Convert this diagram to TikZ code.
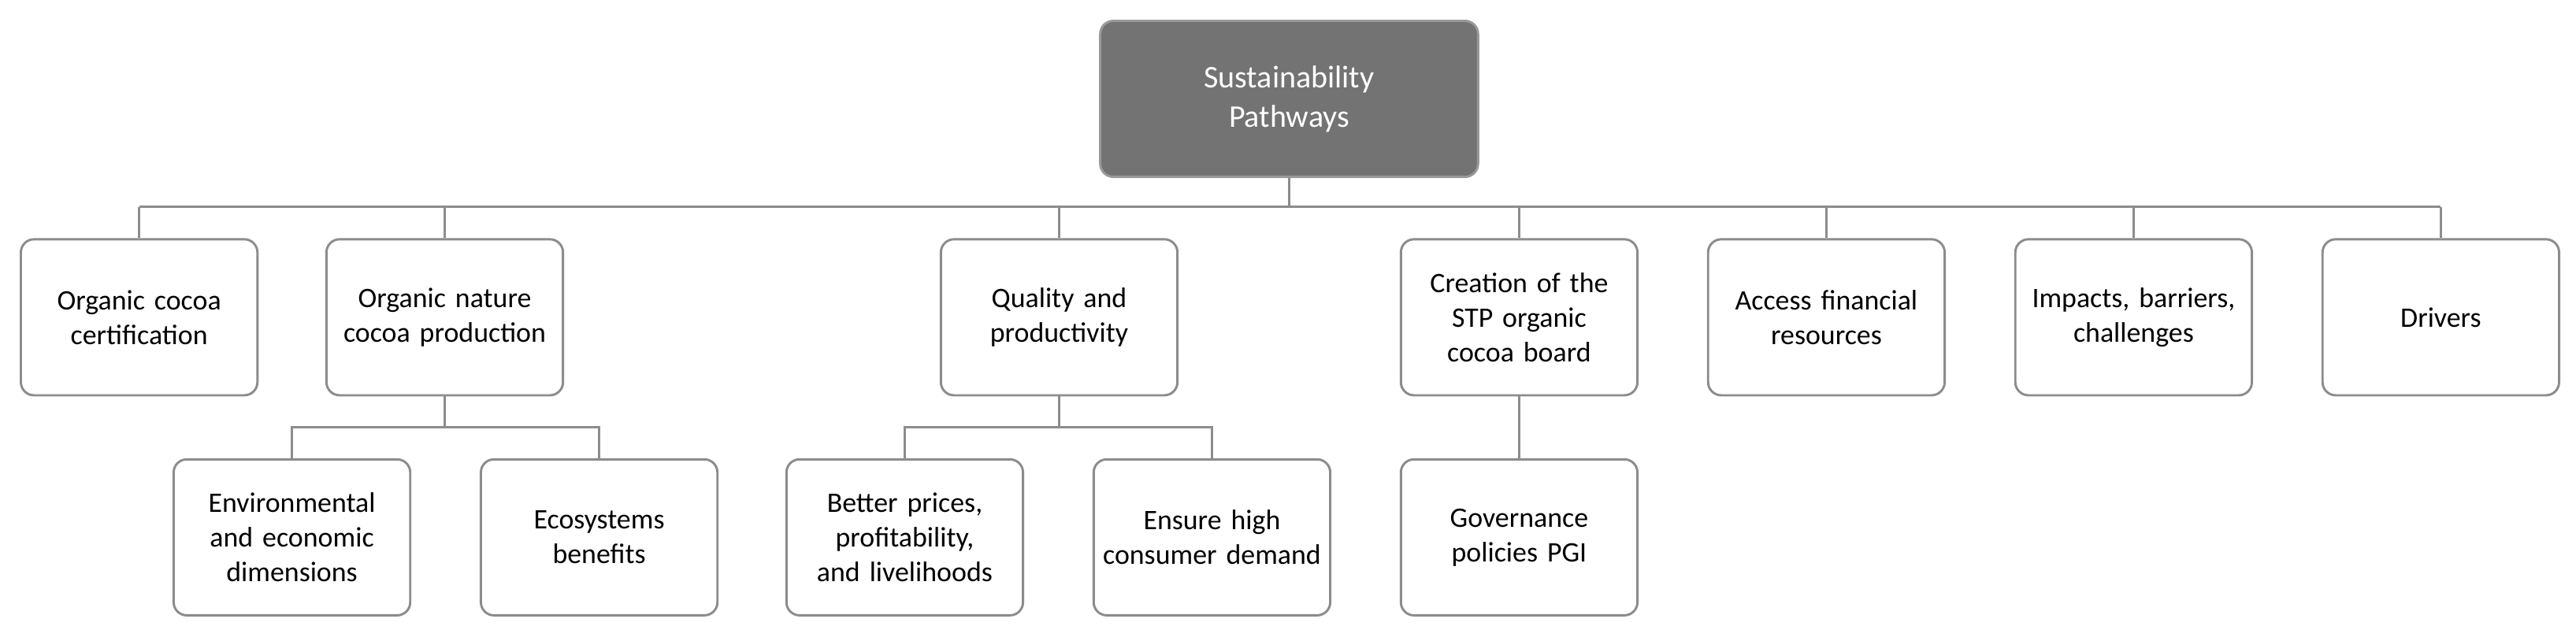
\documentclass[tikz,border=0pt]{standalone}
\usepackage{fontspec}
\setmainfont{Carlito}
\begin{document}
\begin{tikzpicture}[x=0.5pt,y=-0.5pt,
 bx/.style={draw=black!45,line width=0.7pt,rounded corners=4pt,fill=white,minimum width=72pt,minimum height=47.5pt,align=center,font=\fontsize{8.6}{10.6}\selectfont,text width=68pt,anchor=north west,inner sep=0pt},
 ln/.style={draw=black!45,line width=0.7pt}]
\useasboundingbox (0,0) rectangle (1568,390);
\node[bx,fill=black!55,draw=black!40,text=white,minimum width=115pt,text width=100pt,font=\fontsize{9.6}{12}\selectfont] (top) at (669,12) {Sustainability\\Pathways};
\node[bx] (a) at (12,145) {Organic cocoa certification};
\node[bx] (b) at (198,145) {Organic nature cocoa production};
\node[bx] (c) at (572,145) {Quality and productivity};
\node[bx] (d) at (852,145) {Creation of the STP organic cocoa board};
\node[bx] (e) at (1039,145) {Access financial resources};
\node[bx] (f) at (1226,145) {Impacts, barriers, challenges};
\node[bx] (g) at (1413,145) {Drivers};
\node[bx] (b1) at (105,279) {Environmental and economic dimensions};
\node[bx] (b2) at (292,279) {Ecosystems benefits};
\node[bx] (c1) at (478,279) {Better prices, profitability, and livelihoods};
\node[bx] (c2) at (665,279) {Ensure high consumer demand};
\node[bx] (d1) at (852,279) {Governance policies PGI};
\coordinate (bus) at (0,126);
\coordinate (sb) at (0,260);
\draw[ln] (top.south) -- (top.south |- bus);
\foreach \n in {a,b,c,d,e,f,g} \draw[ln] (\n.north) -- (\n.north |- bus);
\draw[ln] (a.north |- bus) -- (g.north |- bus);
\foreach \p/\q/\r in {b/b1/b2,c/c1/c2} {
 \draw[ln] (\p.south) -- (\p.south |- sb);
 \draw[ln] (\q.north) |- (\r.north |- sb) -- (\r.north);}
\draw[ln] (d.south) -- (d1.north);
\end{tikzpicture}
\end{document}
